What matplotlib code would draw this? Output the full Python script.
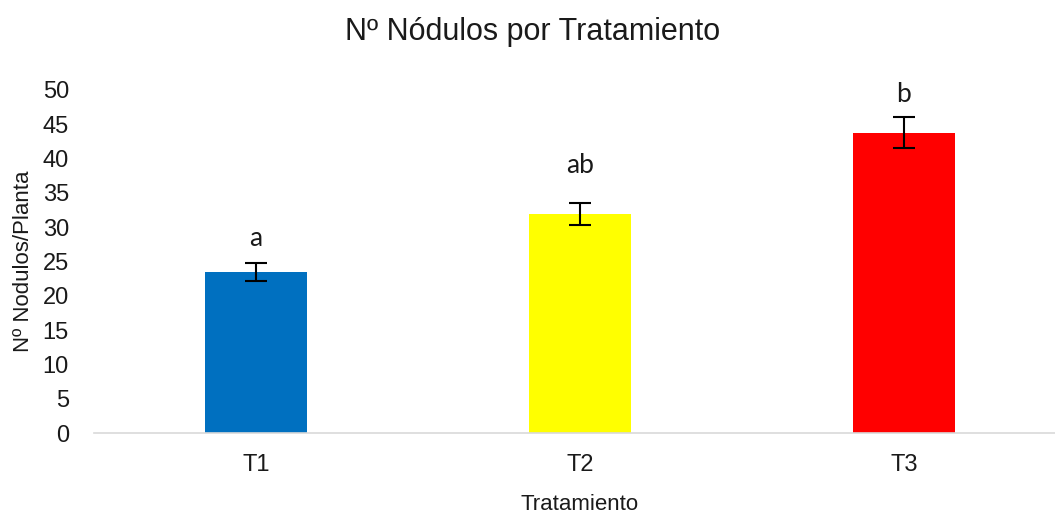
import matplotlib.pyplot as plt

# data
tratamientos = ["T1", "T2", "T3"]
nodulos = [23.5, 31.9, 43.8]
error = [1.35, 1.65, 2.2]
letras = ["a", "ab", "b"]
letra_y = [28.4, 39.0, 49.3]
colores = ["#0070c0", "#ffff00", "#ff0000"]

plt.rcParams['font.family'] = ['Liberation Sans', 'DejaVu Sans']

fig = plt.figure(figsize=(10.55, 5.16), dpi=100)
ax = fig.add_axes([94 / 1055, 1 - 433 / 516, 972 / 1055, 343 / 516])

x = range(len(tratamientos))
ax.bar(x, nodulos, width=0.315, color=colores, zorder=2)
ax.errorbar(x, nodulos, yerr=error, fmt='none', ecolor='black',
            elinewidth=1.5, capsize=8, capthick=1.5, zorder=3)

# significance letters
for i, (l, y) in enumerate(zip(letras, letra_y)):
    ax.text(i, y, l, ha='center', va='center', fontsize=19,
            family=['Lato', 'DejaVu Sans'], color='#1a1a1a')

ax.set_xlim(-0.5, 2.5)
ax.set_ylim(0, 50)
ax.set_yticks(range(0, 51, 5))
ax.set_xticks(list(x))
ax.set_xticklabels(tratamientos)
ax.tick_params(axis='both', length=0, labelsize=17, colors='#1a1a1a')
ax.tick_params(axis='x', pad=15)
ax.tick_params(axis='y', pad=18)

for s in ['top', 'right', 'left']:
    ax.spines[s].set_visible(False)
ax.spines['bottom'].set_color('#d9d9d9')
ax.spines['bottom'].set_linewidth(1.2)

ax.set_xlabel("Tratamiento", fontsize=16, color='#1a1a1a', labelpad=13)
ax.set_ylabel("Nº Nodulos/Planta", fontsize=16, color='#1a1a1a', labelpad=6)
fig.text(533 / 1055, 1 - 32 / 516, "Nº Nódulos por Tratamiento",
         ha='center', va='center', fontsize=22, color='#1a1a1a')

plt.savefig('out.png', dpi=100)
